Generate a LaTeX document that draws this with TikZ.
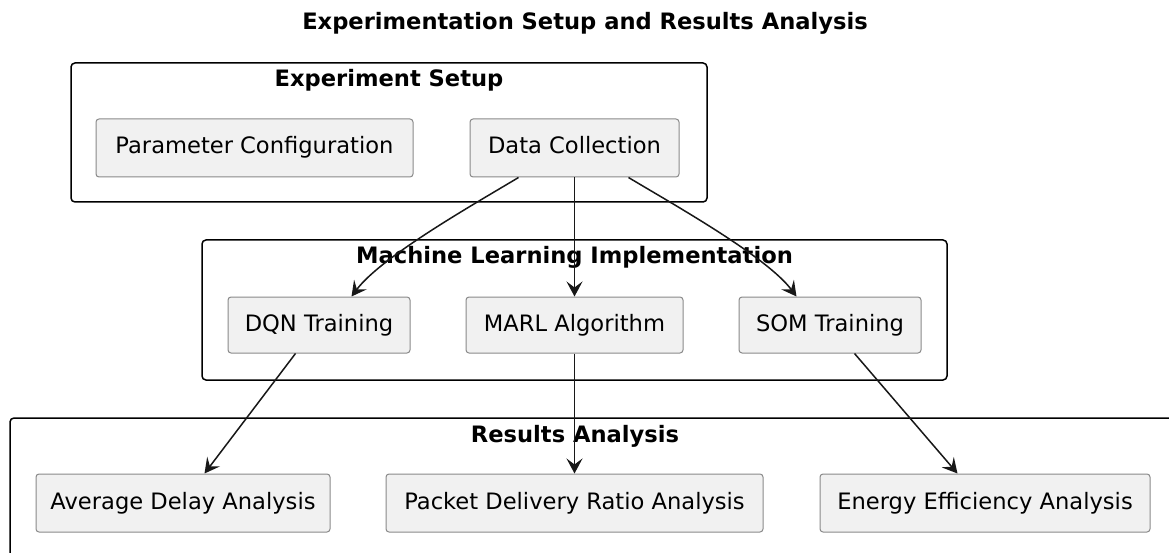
\documentclass[tikz,border=0pt]{standalone}
\usepackage{fontspec}
\setmainfont{DejaVu Sans}
\usetikzlibrary{arrows.meta}
\definecolor{boxfill}{HTML}{F1F1F1}
\definecolor{boxline}{HTML}{8A8A8A}
\definecolor{ink}{HTML}{181818}
\tikzset{
  stepbox/.style={draw=boxline, line width=1pt, fill=boxfill, rounded corners=3pt,
    minimum height=58pt, inner sep=0pt, text height=17pt, text depth=5pt,
    font=\fontsize{22.6}{27}\selectfont},
  frame/.style={draw=black, line width=1.5pt, rounded corners=4pt},
  ftitle/.style={anchor=base, inner sep=0pt, font=\fontsize{22.6}{27}\selectfont\bfseries},
  conn/.style={draw=ink, line width=1.5pt, -{Stealth[length=15pt,width=16pt,inset=6pt]}}
}
\begin{document}
\begin{tikzpicture}[x=1pt,y=-1pt]
\useasboundingbox (0,0) rectangle (1169,553);
\fill[white] (0,0) rectangle (1169,553);
% title
\node[ftitle] (title) at (585,30) {Experimentation Setup and Results Analysis};
% frames
\draw[frame] (71,63) rectangle (707,202);
\node[ftitle] (fs) at (389,86.5) {Experiment Setup};
\draw[frame] (202,240) rectangle (947,380);
\node[ftitle] (fml) at (574.5,264) {Machine Learning Implementation};
\draw[frame] (1170,418) -- (10,418) -- (10,554);
\node[ftitle] (fra) at (575,442) {Results Analysis};
% boxes
\node[stepbox, minimum width=317pt] (pc) at (254.5,148) {Parameter Configuration};
\node[stepbox, minimum width=209pt] (dc) at (574.5,148) {Data Collection};
\node[stepbox, minimum width=182pt, minimum height=56pt] (dqn) at (319,325) {DQN Training};
\node[stepbox, minimum width=217pt, minimum height=56pt] (marl) at (574.5,325) {MARL Algorithm};
\node[stepbox, minimum width=182pt, minimum height=56pt] (som) at (830,325) {SOM Training};
\node[stepbox, minimum width=294pt] (ad) at (183,503) {Average Delay Analysis};
\node[stepbox, minimum width=377pt] (pdr) at (574.5,503) {Packet Delivery Ratio Analysis};
\node[stepbox, minimum width=330pt] (ee) at (985,503) {Energy Efficiency Analysis};
% connectors
\draw[conn] ([xshift=49pt]dc.south west) .. controls +(-45,27) and +(30,-40) .. ([xshift=124pt]dqn.north west);
\draw[conn] (dc.south) -- (marl.north);
\draw[conn] ([xshift=-51pt]dc.south east) .. controls +(45,27) and +(-30,-40) .. ([xshift=58pt]som.north west);
\draw[conn] ([xshift=68pt]dqn.south west) -- ([xshift=169pt]ad.north west);
\draw[conn] (marl.south) -- (pdr.north);
\draw[conn] ([xshift=116pt]som.south west) -- ([xshift=138pt]ee.north west);
\end{tikzpicture}
\end{document}
